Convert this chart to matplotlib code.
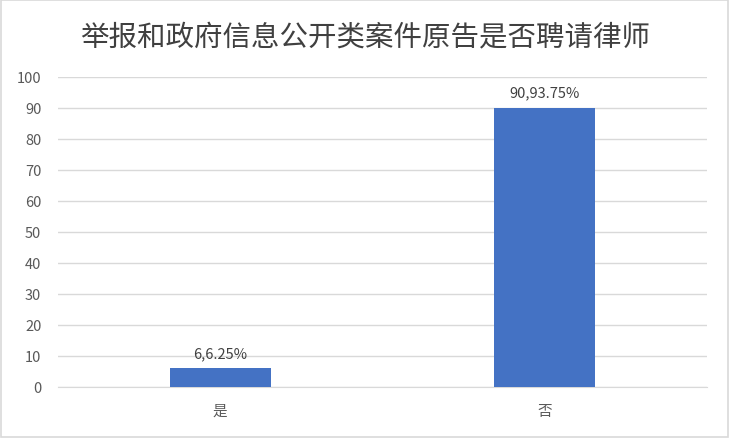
import matplotlib.pyplot as plt
from matplotlib.patches import Rectangle

plt.rcParams['font.family'] = ['Noto Sans CJK SC', 'DejaVu Sans']

# data
categories = ['是', '否']
counts = [6, 90]
percents = ['6.25%', '93.75%']
yticks = list(range(0, 101, 10))

fig = plt.figure(figsize=(7.3, 4.39), dpi=100)
ax = fig.add_axes([58 / 730, 1 - 388 / 439, 649 / 730, 310.5 / 439])

x = list(range(len(categories)))
bars = ax.bar(x, counts, width=0.31, color='#4472C4', zorder=3)

for b, c, p in zip(bars, counts, percents):
    ax.text(b.get_x() + b.get_width() / 2, c + 2.5, f'{c},{p}',
            ha='center', va='bottom', fontsize=10.5, color='#404040')

ax.set_xlim(-0.5, 1.5)
ax.set_ylim(0, 100)
ax.set_yticks(yticks)
ax.set_xticks(x)
ax.set_xticklabels(categories)
ax.tick_params(axis='both', length=0, labelsize=10.5, labelcolor='#595959')
ax.tick_params(axis='x', pad=12)
ax.tick_params(axis='y', pad=12)
ax.grid(axis='y', color='#d9d9d9', linewidth=1, zorder=0)
for s in ['top', 'right', 'left']:
    ax.spines[s].set_visible(False)
ax.spines['bottom'].set_color('#d9d9d9')

fig.text(0.5, 1 - 38 / 439, '举报和政府信息公开类案件原告是否聘请律师',
         ha='center', va='center', fontsize=20.5, color='#404040', fontweight='medium')

fig.patches.append(Rectangle((0.002, 0.003), 0.995, 0.994, transform=fig.transFigure,
                             fill=False, edgecolor='#d9d9d9', linewidth=1.2))

fig.savefig('out.png', dpi=100)
